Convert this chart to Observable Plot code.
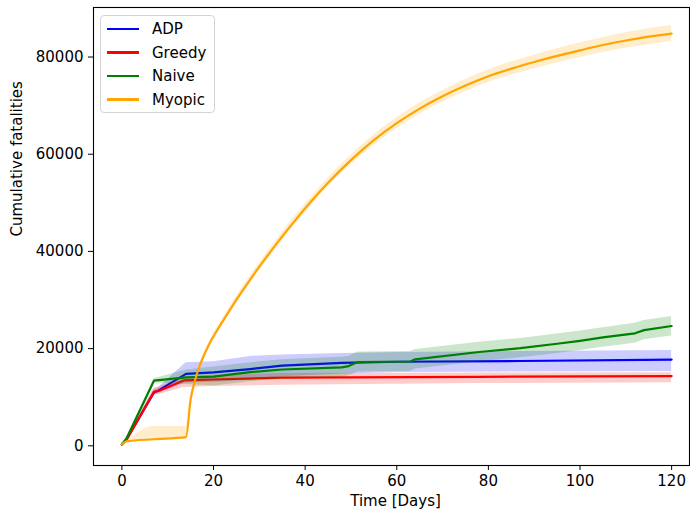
<!DOCTYPE html>
<html>
<head>
<meta charset="utf-8">
<script src="https://cdn.jsdelivr.net/npm/d3@7"></script>
<script src="https://cdn.jsdelivr.net/npm/@observablehq/plot@0.6"></script>
<style>
  body { margin: 0; background: white; }
  #wrap { position: relative; width: 690px; height: 515px; font-family: "DejaVu Sans", sans-serif; }
  #legend { position: absolute; left: 100px; top: 15px; width: 115px; height: 98px; box-sizing: border-box;
            border: 1px solid #d4d4d4; border-radius: 4px; background: rgba(255,255,255,0.8); }
  .item { position: absolute; left: 0; height: 20px; display: flex; align-items: center; font-size: 15px; color: black; }
  .swatch { width: 32px; height: 2.2px; margin-left: 6px; margin-right: 13px; }
</style>
</head>
<body>
<div id="wrap"><div id="legend"></div></div>
<script>
const seriesNames = ["ADP", "Greedy", "Naive", "Myopic"];
const seriesColors = ["#0000ff", "#ff0000", "#008000", "#ffa500"];
const xTicks = [0, 20, 40, 60, 80, 100, 120];
const yTicks = [0, 20000, 40000, 60000, 80000];

const adpDays  = [0, 1, 7, 8, 14, 20, 28, 35, 48, 60, 87, 120];
const adpMean  = [300, 1300, 11000, 11400, 14800, 15100, 15800, 16500, 17050, 17300, 17450, 17750];
const adpLower = [300, 1150, 10400, 10800, 12900, 13100, 13500, 14200, 14800, 15100, 15200, 15300];
const adpUpper = [300, 1450, 11600, 12000, 17100, 17300, 18400, 18700, 19000, 19200, 19400, 19600];

const greedyDays  = [0, 1, 7, 8, 13.5, 20, 35, 78, 120];
const greedyMean  = [300, 1200, 11100, 11300, 13450, 13650, 14050, 14200, 14350];
const greedyLower = [300, 1050, 10400, 10500, 12000, 12200, 12450, 12800, 13000];
const greedyUpper = [300, 1350, 11800, 12100, 14000, 14500, 14900, 15000, 15050];

const naiveDays  = [0, 1, 7, 14, 20, 28, 35, 48, 49.5, 51.5, 63, 64, 78, 87, 95, 100, 105, 112, 114, 120];
const naiveMean  = [300, 1500, 13400, 14100, 14250, 15150, 15700, 16150, 16400, 17250, 17350, 17800, 19300, 20100, 21000, 21600, 22300, 23150, 23800, 24650];
const naiveLower = [300, 1300, 13000, 12600, 12300, 13200, 13700, 14100, 14400, 15200, 15300, 15800, 17300, 18100, 19000, 19600, 20300, 21100, 21800, 22600];
const naiveUpper = [300, 1700, 13800, 15600, 16200, 17100, 17700, 18200, 18400, 19300, 19400, 19800, 21300, 22100, 23000, 23600, 24300, 25200, 25800, 26600];

const myopicDays  = [0, 1, 7, 14, 15, 16, 17, 18, 19, 20, 22, 24, 26, 28, 30, 32, 35, 38, 42, 45, 50, 55, 60, 65, 70, 75, 80, 85, 90, 95, 100, 105, 110, 115, 120];
const myopicMean  = [300, 900, 1350, 1800, 9500, 13600, 16500, 18800, 20800, 22500, 25600, 28600, 31450, 34200, 36850, 39400, 43090, 46600, 51040, 54130, 58780, 62880, 66380, 69380, 71930, 74130, 76055, 77605, 78980, 80230, 81380, 82480, 83405, 84180, 84830];
const myopicLower = [300, 800, 1250, 1650, 8700, 13000, 16100, 18300, 20200, 21900, 24900, 27900, 30700, 33400, 36050, 38600, 42240, 45700, 50140, 53180, 57780, 61830, 65280, 68230, 70730, 72880, 74755, 76255, 77580, 78780, 79880, 80930, 81805, 82530, 83180];
const myopicUpper = [300, 1000, 4000, 4000, 10300, 14200, 17000, 19300, 21400, 23100, 26300, 29300, 32200, 35000, 37650, 40200, 43940, 47500, 51940, 55080, 59780, 63930, 67480, 70530, 73130, 75380, 77355, 78955, 80380, 81680, 82880, 84030, 85005, 85830, 86480];

const sources = [
  ["ADP", adpDays, adpMean, adpLower, adpUpper, "linear"],
  ["Greedy", greedyDays, greedyMean, greedyLower, greedyUpper, "linear"],
  ["Naive", naiveDays, naiveMean, naiveLower, naiveUpper, "linear"],
  ["Myopic", myopicDays, myopicMean, myopicLower, myopicUpper, "monotone-x"]
];

const marks = [];
for (const [name, days, mean, lower, upper, curve] of sources) {
  const rows = days.map((d, i) => ({series: name, day: d, mean: mean[i], lower: lower[i], upper: upper[i]}));
  marks.push(Plot.lineY(rows, {x: "day", y: "mean", stroke: "series", strokeWidth: 2.2, curve}));
  marks.push(Plot.areaY(rows, {x: "day", y1: "lower", y2: "upper", fill: "series", fillOpacity: 0.2, curve}));
}

const chart = Plot.plot({
  width: 690,
  height: 515,
  marginLeft: 93,
  marginRight: 1,
  marginTop: 7,
  marginBottom: 50,
  style: {fontFamily: "DejaVu Sans", fontSize: "15px", color: "black", background: "white", overflow: "visible"},
  x: {domain: [-6.2, 123.9]},
  y: {domain: [-4050, 90190]},
  color: {domain: seriesNames, range: seriesColors},
  marks: [
    ...marks,
    Plot.axisX({ticks: xTicks, tickSize: 5, tickPadding: 5, tickFormat: d => String(d), label: null, fontSize: 15}),
    Plot.axisY({ticks: yTicks, tickSize: 5, tickPadding: 5, tickFormat: d => String(d), label: null, fontSize: 15}),
    Plot.frame({stroke: "black", strokeWidth: 1.1}),
    Plot.text(["Time [Days]"], {frameAnchor: "bottom", dy: 40, dx: 4, fontSize: 15, fill: "black"}),
    Plot.text(["Cumulative fatalities"], {frameAnchor: "left", dx: -76, rotate: -90, fontSize: 15, fill: "black"})
  ]
});
document.getElementById("wrap").prepend(chart);

const legend = document.getElementById("legend");
const itemTops = [3, 26.5, 50, 73.5];
seriesNames.forEach((name, i) => {
  const item = document.createElement("div");
  item.className = "item";
  item.style.top = itemTops[i] + "px";
  const sw = document.createElement("div");
  sw.className = "swatch";
  sw.style.background = seriesColors[i];
  const label = document.createElement("span");
  label.textContent = name;
  item.appendChild(sw);
  item.appendChild(label);
  legend.appendChild(item);
});
</script>
</body>
</html>
